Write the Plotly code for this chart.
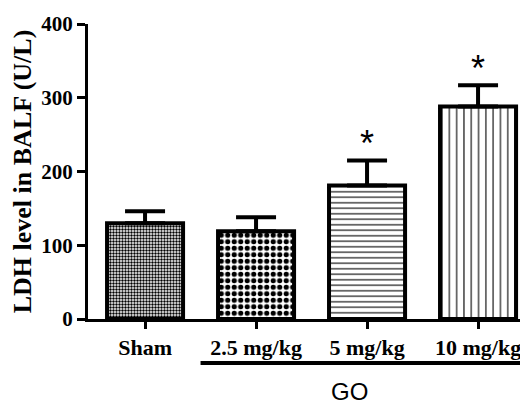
import plotly.graph_objects as go

categories = ["Sham", "2.5 mg/kg", "5 mg/kg", "10 mg/kg"]
means = [130, 119, 181, 288]
errors = [16, 19, 34, 29]
significant = [False, False, True, True]
patterns = [".", ".", "-", "|"]
pattern_sizes = [3, 6.5, 5.5, 7.3]
pattern_solidity = [0.5, 0.5, 0.2, 0.15]
y_ticks = [0, 100, 200, 300, 400]
group_label = "GO"

fig = go.Figure()
fig.add_trace(go.Bar(
    x=list(range(len(categories))),
    y=means,
    width=0.685,
    marker=dict(
        color="white",
        line=dict(color="black", width=4),
        pattern=dict(shape=patterns, size=pattern_sizes, solidity=pattern_solidity,
                     fgcolor="black", bgcolor="white", fillmode="replace"),
    ),
    error_y=dict(type="data", array=errors, arrayminus=[0] * len(errors),
                 symmetric=False, thickness=4, width=20, color="black"),
    showlegend=False,
))

for i, (m, e, s) in enumerate(zip(means, errors, significant)):
    if s:
        fig.add_annotation(x=i, y=m + e, text="*", showarrow=False, yanchor="bottom",
                           yshift=-6, font=dict(family="Liberation Sans", size=36, color="black"))

fig.add_shape(type="line", xref="x", yref="paper", x0=0.5, x1=3.5, y0=-0.149, y1=-0.149,
              line=dict(color="black", width=4))
fig.add_annotation(x=1.84, xref="x", y=-0.246, yref="paper", yanchor="middle", text=group_label,
                   showarrow=False, font=dict(family="Liberation Sans", size=24, color="black"))

fig.update_layout(
    width=520, height=397,
    margin=dict(l=80, r=0, t=16, b=86, autoexpand=False),
    plot_bgcolor="white", paper_bgcolor="white",
    font=dict(family="Liberation Serif", color="black"),
)
fig.update_xaxes(
    range=[-0.514, 3.45],
    tickmode="array", tickvals=list(range(len(categories))),
    ticktext=["<b>%s</b>" % c for c in categories],
    tickfont=dict(family="Liberation Serif", size=22, color="black"),
    showline=True, linecolor="black", linewidth=3,
    ticks="outside", ticklen=7, tickwidth=3, tickcolor="black",
    showgrid=False, zeroline=False, automargin=False,
)
fig.update_yaxes(
    range=[0, 400],
    tickmode="array", tickvals=y_ticks, ticktext=["<b>%d</b>" % t for t in y_ticks],
    tickfont=dict(family="Liberation Serif", size=21, color="black"),
    showline=True, linecolor="black", linewidth=3,
    ticks="outside", ticklen=8, tickwidth=3, tickcolor="black",
    showgrid=False, zeroline=False, automargin=False,
    title=dict(text="<b>LDH level in BALF (U/L)</b>", standoff=6,
               font=dict(family="Liberation Serif", size=26, color="black")),
)

fig.write_html("out.html")
